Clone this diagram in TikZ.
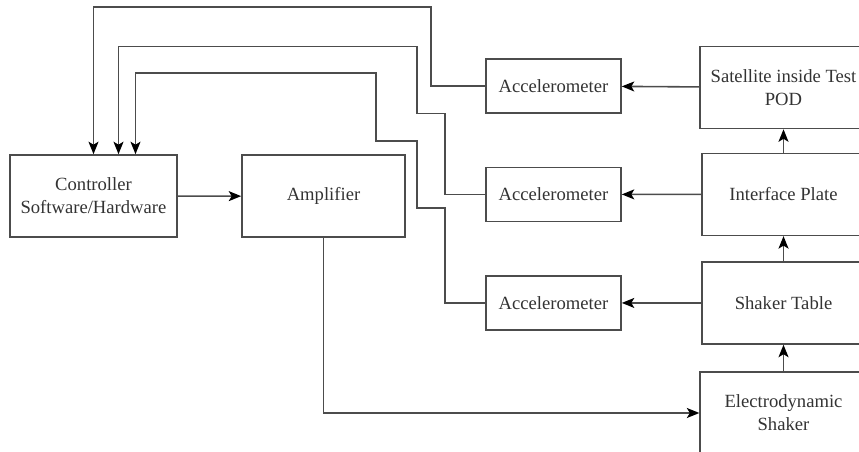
\documentclass[tikz,border=0pt]{standalone}
\usepackage{fontspec}
\setmainfont{Liberation Serif}
\usetikzlibrary{matrix,positioning,arrows.meta}

\begin{document}
\begin{tikzpicture}[
     % define styles
     block/.style={
         draw=black!70,
         line width=0.9pt,
         minimum width=3.26cm,
         minimum height=1.64cm
     },
     acc/.style={
         minimum width=2.7cm,
         minimum height=1.08cm
     },
     net/.style={
         matrix of nodes,
         nodes={ block, text=black!80,
                 font=\fontsize{10.6}{13}\selectfont },
         column sep={4.6cm,between origins},
         row sep={2.17cm,between origins}
     },
     wire/.style={ draw=black!70, line width=0.9pt },
     >={Stealth[length=2.5mm,width=2mm,inset=0.6mm,black]}
]
% visible part of the page
\clip (-1.87,3.92) rectangle (15.31,-5.12);

% define matrix mat to hold the blocks
\matrix[net, matrix anchor=mat-2-1.center] (mat) at (0,0)
{
            &           & |[acc]| Accelerometer
    & \parbox{3.1cm}{\centering Satellite inside Test\\POD} \\
\parbox{3.1cm}{\centering Controller\\Software/Hardware}
            & Amplifier & |[acc]| Accelerometer & Interface Plate \\
            &           & |[acc]| Accelerometer & Shaker Table \\
            &           &                       
    & \parbox{3.1cm}{\centering Electrodynamic\\Shaker} \\
};

% forward path
\draw[wire,->] (mat-2-1) -- (mat-2-2);
\draw[wire,->] (mat-2-2.south) |- (mat-4-4.west);

% stack on the right, bottom to top
\foreach \lo/\hi in {4/3,3/2,2/1}
    \draw[wire,->] (mat-\lo-4) -- (mat-\hi-4);

% sensors picking up each level
\foreach \r in {1,2,3}
    \draw[wire,->] (mat-\r-4) -- (mat-\r-3);

% feedback lines back to the controller
\draw[wire,->] (mat-1-3.west) -- ++(-1.08,0) -- ++(0,1.58)
    -| (mat-2-1.north);
\draw[wire,->] (mat-2-3.west) -- ++(-0.8,0) -- ++(0,1.62) -- ++(-0.56,0)
    -- ++(0,1.34) -| ([xshift=0.5cm]mat-2-1.north);
\draw[wire,->] (mat-3-3.west) -- ++(-0.8,0) -- ++(0,1.9) -- ++(-0.56,0)
    -- ++(0,1.34) -- ++(-0.82,0) -- ++(0,1.36)
    -| ([xshift=0.84cm]mat-2-1.north);
\end{tikzpicture}
\end{document}
